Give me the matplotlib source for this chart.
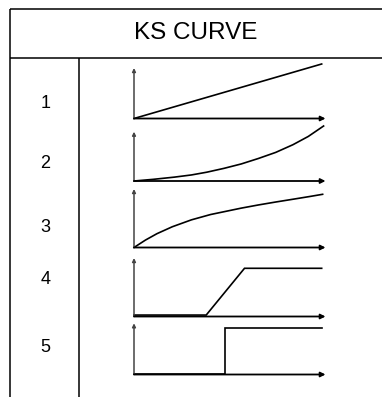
import matplotlib
matplotlib.use("Agg")
import matplotlib.pyplot as plt

plt.rcParams['font.family'] = ['Liberation Sans', 'DejaVu Sans']

# ---- data -------------------------------------------------------------
title = "KS CURVE"
row_labels = ["1", "2", "3", "4", "5"]

# curve 1: linear
k1_x = [0.0, 0.98]
k1_y = [0.0, 1.0]
# curve 2: progressive (convex)
k2_x = [0.0, 0.10, 0.21, 0.30, 0.38, 0.47, 0.56, 0.65, 0.74, 0.83, 0.91, 0.99]
k2_y = [0.0, 0.03, 0.07, 0.11, 0.16, 0.23, 0.31, 0.41, 0.52, 0.66, 0.81, 1.00]
# curve 3: degressive (concave)
k3_x = [0.0, 0.06, 0.12, 0.20, 0.30, 0.40, 0.48, 0.56, 0.65, 0.74, 0.835, 0.92, 0.985]
k3_y = [0.0, 0.14, 0.26, 0.39, 0.52, 0.62, 0.68, 0.74, 0.80, 0.855, 0.91, 0.96, 1.00]
# curve 4: ramp
k4_x = [0.0, 0.377, 0.577, 0.98]
k4_y = [0.03, 0.03, 1.0, 1.0]
# curve 5: step
k5_x = [0.0, 0.477, 0.477, 0.98]
k5_y = [0.02, 0.02, 1.0, 1.0]

curves = [(k1_x, k1_y), (k2_x, k2_y), (k3_x, k3_y), (k4_x, k4_y), (k5_x, k5_y)]

# ---- layout (pixels) ---------------------------------------------------
W, H = 382, 397
fig = plt.figure(figsize=(W / 100, H / 100), dpi=100)
fig.patch.set_facecolor("white")

bg = fig.add_axes([0, 0, 1, 1])
bg.set_xlim(0, W)
bg.set_ylim(H, 0)
bg.axis("off")

lw_tab = 1.1
top_y, head_y = 9, 57.5
left_x, div_x = 10, 78.5
bg.plot([left_x, W], [top_y, top_y], color="black", lw=lw_tab, solid_capstyle="butt")
bg.plot([left_x, W], [head_y, head_y], color="black", lw=lw_tab, solid_capstyle="butt")
bg.plot([left_x, left_x], [top_y, H], color="black", lw=lw_tab, solid_capstyle="butt")
bg.plot([div_x, div_x], [head_y, H], color="black", lw=lw_tab, solid_capstyle="butt")

bg.text(196, 33, title, ha="center", va="center", fontsize=17.5, color="black")

label_y = [104, 163, 228, 280, 347]
for lab, ly in zip(row_labels, label_y):
    bg.text(45.5, ly, lab, ha="center", va="center", fontsize=13, color="black")

# panel geometry: x-axis origin/tip, x-axis baseline, curve full level, y-axis top
x0_px, xtip_px = 134, 325.5
base_px = [118.5, 181, 247.5, 316.5, 374.5]
level_px = [64, 126, 194.3, 268.3, 327.7]
ytop_px = [68, 131.7, 189, 258, 323.3]

for (cx, cy), b, t, yt in zip(curves, base_px, level_px, ytop_px):
    ax = fig.add_axes([x0_px / W, (H - b) / H, (xtip_px - x0_px) / W, (b - t) / H])
    ax.set_xlim(0, 1)
    ax.set_ylim(0, 1)
    ax.axis("off")
    ax.patch.set_alpha(0)
    yaxis_top = (b - yt) / (b - t)
    # y axis
    ax.annotate("", xy=(0, yaxis_top), xytext=(0, 0), xycoords="data",
                arrowprops=dict(arrowstyle="-|>", lw=1.1, color="#444444",
                                mutation_scale=5, shrinkA=0, shrinkB=0),
                annotation_clip=False)
    # x axis
    ax.annotate("", xy=(1, 0), xytext=(0, 0), xycoords="data",
                arrowprops=dict(arrowstyle="-|>", lw=1.3, color="black",
                                mutation_scale=7, shrinkA=0, shrinkB=0),
                annotation_clip=False)
    ax.plot(cx, cy, color="black", lw=1.2, clip_on=False, solid_joinstyle="miter")

fig.savefig("out.png", dpi=100, facecolor="white")
